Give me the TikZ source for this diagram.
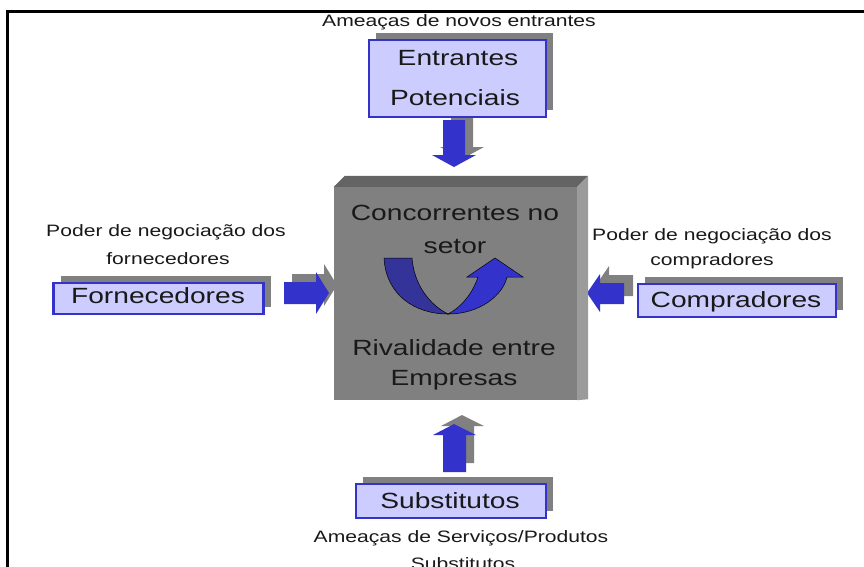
\documentclass[tikz,border=0pt]{standalone}
\usepackage{fontspec}
\setmainfont[FakeStretch=1.28]{Liberation Sans}
\usetikzlibrary{shadows}
\definecolor{boxfill}{RGB}{204,204,255}
\definecolor{boxblue}{RGB}{51,51,204}
\definecolor{shadowgray}{RGB}{128,128,128}
\definecolor{topgray}{RGB}{100,100,100}
\definecolor{sidegray}{RGB}{155,155,155}
\definecolor{navyblue}{RGB}{51,51,153}
\definecolor{txt}{RGB}{25,25,25}
\begin{document}
\begin{tikzpicture}[x=1pt,y=-1pt,
  bigtxt/.style={font=\fontsize{22}{26}\selectfont, text=txt, anchor=base, inner sep=0pt},
  smalltxt/.style={font=\fontsize{16.5}{20}\selectfont, text=txt, anchor=base, inner sep=0pt},
  forceblock/.style={fill=boxfill, draw=boxblue, line width=2.5pt, inner sep=0pt,
    drop shadow={shadow xshift=7pt, shadow yshift=7pt, opacity=1, fill=shadowgray}},
  blockarrow/.style={fill=boxblue},
  arrowshadow/.style={fill=shadowgray}]
\useasboundingbox (0,0) rectangle (864,566);
\clip (0,0) rectangle (864,566);
\fill[white] (0,0) rectangle (864,566);
% frame
\draw[line width=3pt] (866,11) -| (7,570);

% block arrows (shadows first)
\fill[arrowshadow,shift={(8,-8)}] (443,120) -- (465,120) -- (465,155) -- (476,155) -- (454,167) -- (432,155) -- (443,155) -- cycle;
\fill[blockarrow] (443,120) -- (465,120) -- (465,155) -- (476,155) -- (454,167) -- (432,155) -- (443,155) -- cycle;
\fill[arrowshadow,shift={(8,-8)}] (284,282) -- (316,282) -- (316,272) -- (329,293) -- (316,314) -- (316,304) -- (284,304) -- cycle;
\fill[blockarrow] (284,282) -- (316,282) -- (316,272) -- (329,293) -- (316,314) -- (316,304) -- (284,304) -- cycle;
\fill[arrowshadow,shift={(9,-8)}] (624,283) -- (600,283) -- (600,274) -- (587,293) -- (600,312) -- (600,304) -- (624,304) -- cycle;
\fill[blockarrow] (624,283) -- (600,283) -- (600,274) -- (587,293) -- (600,312) -- (600,304) -- (624,304) -- cycle;
\fill[arrowshadow,shift={(8,-9)}] (443,472) -- (466,472) -- (466,435) -- (476,435) -- (454,424) -- (433,435) -- (443,435) -- cycle;
\fill[blockarrow] (443,472) -- (466,472) -- (466,435) -- (476,435) -- (454,424) -- (433,435) -- (443,435) -- cycle;

% central 3D box
\node[fill=shadowgray, minimum width=243pt, minimum height=213pt, inner sep=0pt] (main) at (455.5,293.5) {};
\fill[topgray] (main.north west) -- ++(11,-11) -- ([shift={(11,-11)}]main.north east) -- (main.north east) -- cycle;
\fill[sidegray] (main.north east) -- ++(11,-11) -- ([shift={(11,-1)}]main.south east) -- (main.south east) -- cycle;

% U-turn arrow
\draw[fill=navyblue, line width=0.5pt] (384,258) .. controls (386,295) and (415,314) .. (448,314)
  .. controls (430,305) and (414,285) .. (412,258) -- cycle;
\draw[fill=boxblue, line width=0.5pt] (448,314) .. controls (480,314) and (503,295) .. (507,277)
  -- (523,277) -- (495,258) -- (467,277) -- (478,277)
  .. controls (472,295) and (460,308) .. (448,314) -- cycle;

\node[bigtxt] (c1) at (455,220) {Concorrentes no};
\node[bigtxt] (c2) at (455,253) {setor};
\node[bigtxt] (r1) at (454,355) {Rivalidade entre};
\node[bigtxt] (r2) at (454,385) {Empresas};

% force boxes
\node[forceblock, minimum width=177pt, minimum height=77pt] (ent) at (457.5,78.5) {};
\node[bigtxt] (ent1) at (458,65) {Entrantes};
\node[bigtxt] (ent2) at (455,105) {Potenciais};

\node[forceblock, minimum width=210pt, minimum height=31pt] (forn) at (158.5,298.5) {};
\node[bigtxt] (fornt) at (158,303) {Fornecedores};

\node[forceblock, minimum width=198pt, minimum height=33pt] (comp) at (737,300.5) {};
\node[bigtxt] (compt) at (736,307) {Compradores};

\node[forceblock, minimum width=190pt, minimum height=34pt] (subs) at (451,501) {};
\node[bigtxt] (subst) at (450,508) {Substitutos};

% labels
\node[smalltxt] (l1) at (459,26) {Ameaças de novos entrantes};
\node[smalltxt] (l2a) at (166,236) {Poder de negociação dos};
\node[smalltxt] (l2b) at (168,264) {fornecedores};
\node[smalltxt] (l3a) at (712,240) {Poder de negociação dos};
\node[smalltxt] (l3b) at (712,265) {compradores};
\node[smalltxt] (l4a) at (461,542) {Ameaças de Serviços/Produtos};
\node[smalltxt] (l4b) at (463,569) {Substitutos};
\end{tikzpicture}
\end{document}
